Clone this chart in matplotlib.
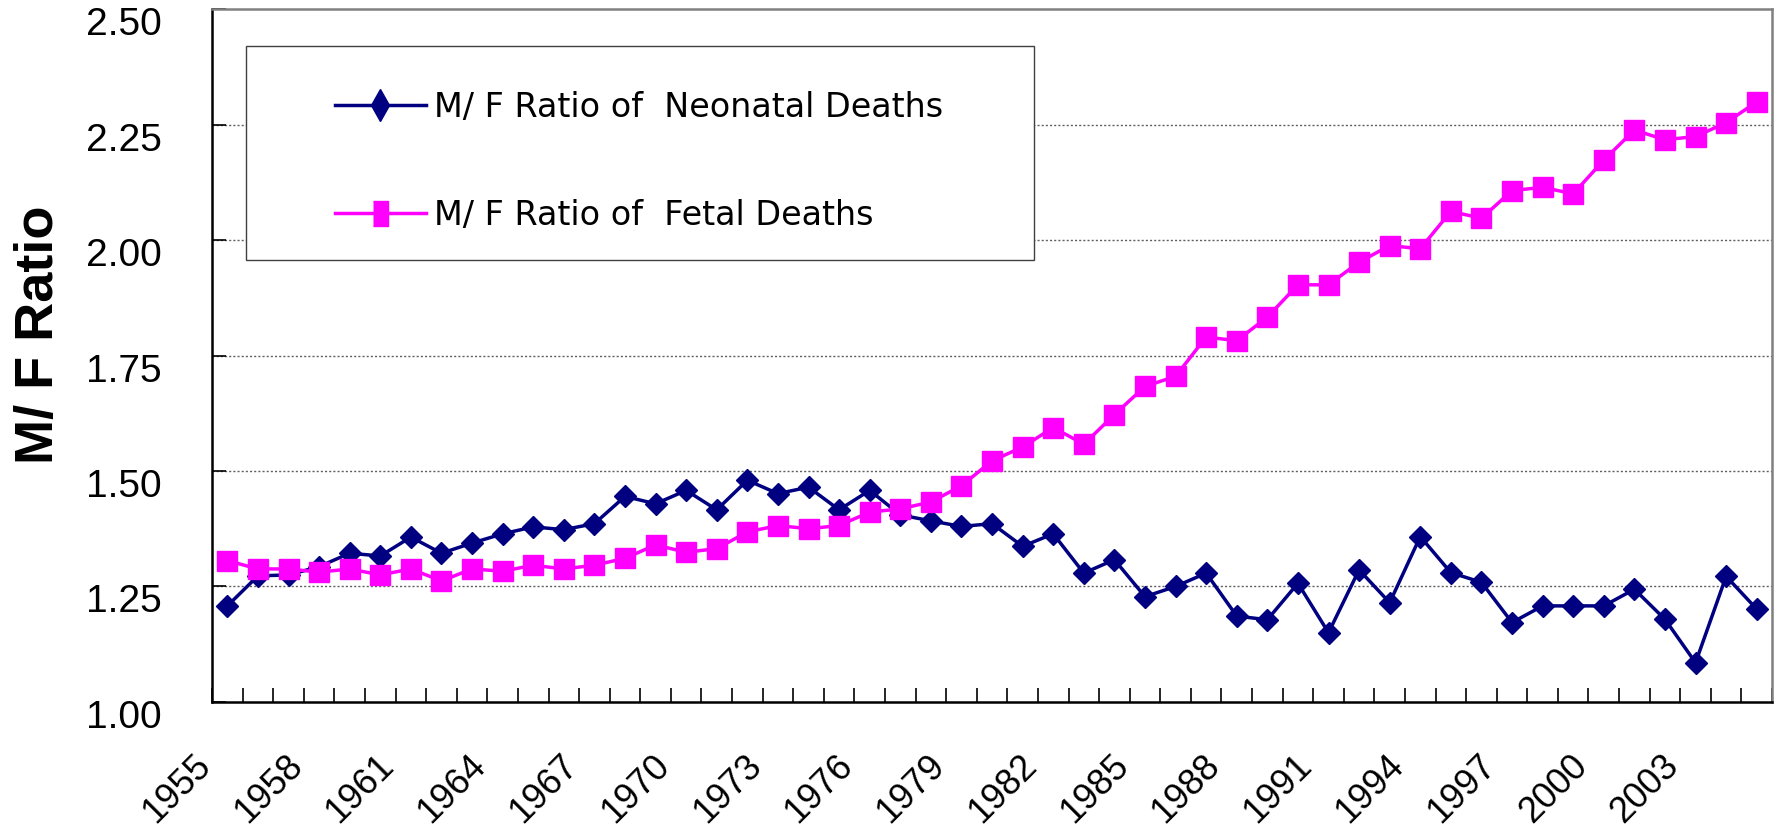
import matplotlib
matplotlib.use('Agg')
import matplotlib.pyplot as plt
import matplotlib.transforms as mtransforms
from matplotlib.patches import Rectangle
from matplotlib.lines import Line2D
import numpy as np

plt.rcParams['font.family'] = ['Liberation Sans', 'DejaVu Sans']

# data
years = list(range(1955, 2006))
neonatal = [1.208, 1.273, 1.275, 1.293, 1.322, 1.316, 1.357, 1.322, 1.344, 1.364,
            1.379, 1.373, 1.386, 1.445, 1.429, 1.458, 1.416, 1.480, 1.451, 1.465,
            1.416, 1.458, 1.405, 1.392, 1.380, 1.386, 1.337, 1.364, 1.279, 1.308,
            1.228, 1.250, 1.279, 1.186, 1.178, 1.257, 1.150, 1.286, 1.215, 1.358,
            1.280, 1.259, 1.172, 1.208, 1.208, 1.208, 1.244, 1.179, 1.085, 1.272,
            1.201]
fetal = [1.306, 1.288, 1.288, 1.281, 1.288, 1.275, 1.288, 1.262, 1.288, 1.283,
         1.296, 1.288, 1.296, 1.311, 1.340, 1.324, 1.332, 1.368, 1.382, 1.375,
         1.382, 1.411, 1.418, 1.433, 1.468, 1.522, 1.552, 1.594, 1.558, 1.622,
         1.683, 1.705, 1.790, 1.782, 1.833, 1.903, 1.903, 1.952, 1.988, 1.981,
         2.062, 2.047, 2.107, 2.114, 2.100, 2.173, 2.238, 2.217, 2.224, 2.254,
         2.299]
label_years = years[::3]   # 1955 ... 2003
y_ticks = [1.00, 1.25, 1.50, 1.75, 2.00, 2.25, 2.50]

neo_name = 'M/ F Ratio of  Neonatal Deaths'
fet_name = 'M/ F Ratio of  Fetal Deaths'
navy = '#000080'
magenta = '#FF00FF'

fig = plt.figure(figsize=(17.82, 8.35), dpi=100)
ax = fig.add_axes([0.119, 0.1593, 0.8754, 0.8299])

x = np.arange(len(years))
ax.plot(x, neonatal, color=navy, lw=2.5, marker='D', ms=11.5, zorder=3)
ax.plot(x, fetal, color=magenta, lw=2.5, marker='s', ms=14, zorder=4)

ax.set_xlim(-0.5, len(years) - 0.5)
ax.set_ylim(1.0, 2.5)

# y axis
ax.set_yticks(y_ticks)
ax.set_yticklabels([f'{v:.2f}' for v in y_ticks])
ax.tick_params(axis='y', direction='in', length=10, width=1.2, pad=36,
               labelsize=28)
down = mtransforms.ScaledTranslation(0, -12 / 100, fig.dpi_scale_trans)
for lab in ax.get_yticklabels():
    lab.set_transform(lab.get_transform() + down)
for v in y_ticks[1:-1]:
    ax.axhline(v, color='#606060', lw=1.0, ls=(0, (1.5, 1.5)), zorder=1)

# x axis: tick marks between categories, labels every 3 years
ax.set_xticks(np.arange(len(years) + 1) - 0.5, minor=True)
ax.tick_params(axis='x', which='minor', direction='in', length=10, width=1.2)
ax.set_xticks([years.index(y) for y in label_years])
ax.set_xticklabels([str(y) for y in label_years])
ax.tick_params(axis='x', which='major', length=0, pad=42, labelsize=26)
left = mtransforms.ScaledTranslation(-22 / 100, 0, fig.dpi_scale_trans)
for lab in ax.get_xticklabels():
    lab.set_rotation(45)
    lab.set_ha('right')
    lab.set_va('center')
    lab.set_rotation_mode('anchor')
    lab.set_transform(lab.get_transform() + left)

ax.set_ylabel('M/ F Ratio', fontsize=39, fontweight='bold')
ax.yaxis.set_label_coords(-0.0948, 0.53)

for side in ['left', 'bottom']:
    ax.spines[side].set_color('black')
    ax.spines[side].set_linewidth(1.8)
for side in ['top', 'right']:
    ax.spines[side].set_color('#808080')
    ax.spines[side].set_linewidth(1.8)

# legend box and entries
ax.add_patch(Rectangle((0.0218, 0.638), 0.5052, 0.3086, transform=ax.transAxes,
                       facecolor='white', edgecolor='#404040', lw=1.0, zorder=5))
handles = [
    Line2D([], [], color=navy, lw=2.5, marker='d', ms=16),
    Line2D([], [], color=magenta, lw=2.5, marker=[(-0.3, -0.5), (0.3, -0.5), (0.3, 0.5), (-0.3, 0.5)], ms=18),
]
leg = ax.legend(handles, [neo_name, fet_name], loc='center left',
                bbox_to_anchor=(0.0788, 0.7800), frameon=False,
                prop={'family': 'DejaVu Sans', 'size': 24},
                handlelength=2.73, handletextpad=0.25,
                labelspacing=2.25, borderpad=0, borderaxespad=0)
leg.set_zorder(6)

fig.savefig('out.png', dpi=100, facecolor='white')
